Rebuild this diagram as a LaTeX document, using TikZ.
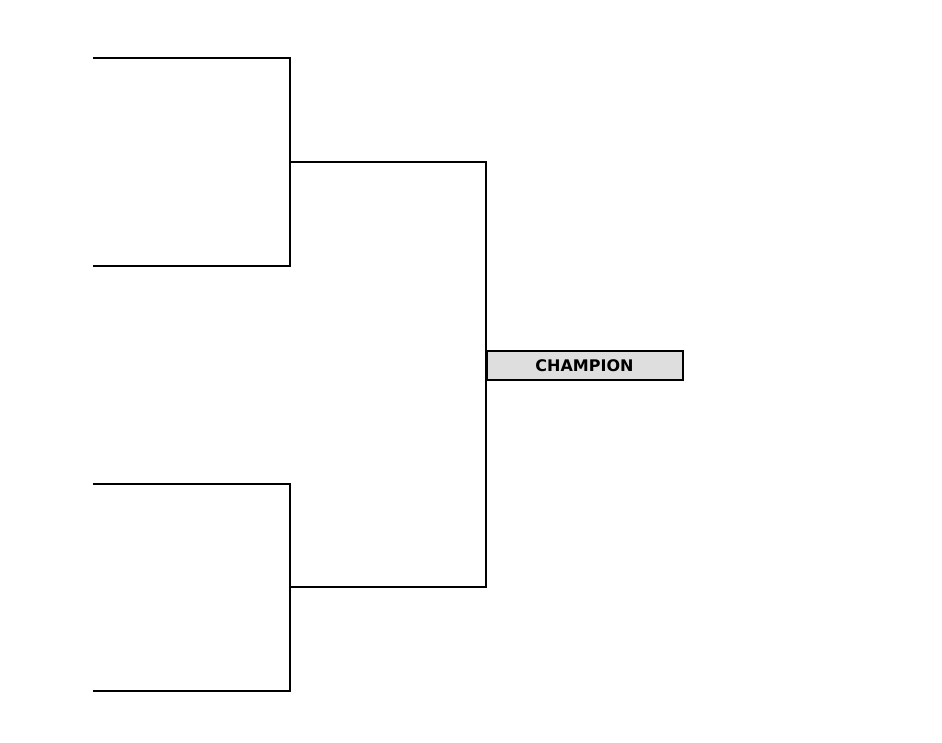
\documentclass[tikz,border=0pt]{standalone}
\usepackage{fontspec}
\setsansfont{DejaVu Sans}
\begin{document}
\begin{tikzpicture}[x=1pt, y=-1pt, line width=2pt,
  title/.style={rectangle, draw, fill=black!13, line width=2pt, minimum width=196pt, minimum height=29pt, inner sep=0pt, anchor=north west, font=\sffamily\bfseries\fontsize{16}{18}\selectfont}]
\useasboundingbox (0,0) rectangle (942,742);
\foreach \n/\y in {1/58, 2/266, 3/484, 4/691} {
  \coordinate (team \n) at (93, \y);
}
\coordinate (semi 1) at (290, 162);
\coordinate (semi 2) at (290, 587);
\coordinate (final 1) at (486, 162);
\coordinate (final 2) at (486, 587);

\draw (team 1) -| (semi 1) |- (team 2);
\draw (team 3) -| (semi 2) |- (team 4);
\draw (semi 1) -- (final 1) -- (final 2) -- (semi 2);

\node[title] (champion) at (485.5, 350) {CHAMPION};
\end{tikzpicture}
\end{document}
